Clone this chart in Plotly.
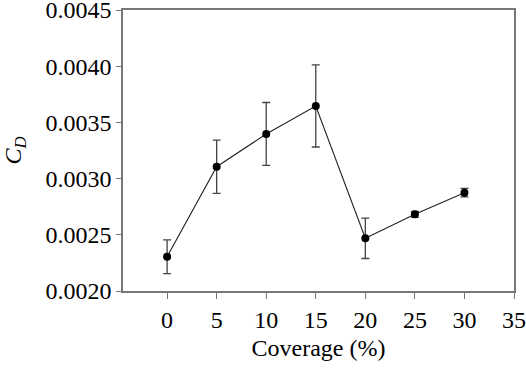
import plotly.graph_objects as go

coverage = [0, 5, 10, 15, 20, 25, 30]
cd = [0.002305, 0.003106, 0.003397, 0.003646, 0.002469, 0.002682, 0.002875]
cd_err = [0.00015, 0.000237, 0.00028, 0.000365, 0.00018, 0.000027, 0.000038]
x_ticks = [0, 5, 10, 15, 20, 25, 30, 35]
y_ticks = [0.0020, 0.0025, 0.0030, 0.0035, 0.0040, 0.0045]

fig = go.Figure()
fig.add_trace(go.Scatter(
    x=coverage, y=cd, mode="lines+markers",
    line=dict(color="#222222", width=1.1),
    marker=dict(color="black", size=8),
    error_y=dict(type="data", array=cd_err, visible=True,
                 color="#444444", thickness=1.3, width=4),
    showlegend=False,
))

font = dict(family="Liberation Serif, Times New Roman, serif", size=24, color="black")
fig.update_layout(
    width=526, height=373,
    margin=dict(l=123, r=12, t=10, b=82),
    paper_bgcolor="white", plot_bgcolor="white",
    font=font,
    xaxis=dict(range=[-4.45, 35], tickvals=x_ticks, ticktext=[str(v) for v in x_ticks],
               automargin=False, ticklabeloverflow="allow",
               showgrid=False, zeroline=False, showline=True, mirror=True,
               linecolor="#777777", linewidth=1.5, ticks="outside", ticklen=6,
               tickcolor="#777777", tickwidth=1.2,
               title=dict(text="Coverage (%)", standoff=8, font=font)),
    yaxis=dict(range=[0.0020, 0.0045], tickvals=y_ticks,
               ticktext=[f"{v:.4f}" for v in y_ticks],
               automargin=False, ticklabeloverflow="allow",
               showgrid=False, zeroline=False, showline=True, mirror=True,
               linecolor="#777777", linewidth=1.5, ticks="outside", ticklen=5,
               tickcolor="#777777", tickwidth=1.2,
               title=dict(text="<i>C<sub>D</sub></i>", standoff=17, font=font)),
)
fig.write_html("out.html", config={"displayModeBar": False},
               post_script="document.body.style.margin='0';document.body.style.padding='0';")
